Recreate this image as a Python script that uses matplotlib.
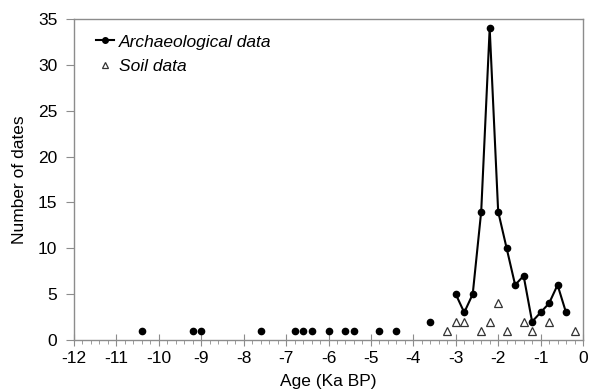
import matplotlib
matplotlib.use("Agg")
import matplotlib.pyplot as plt
from matplotlib.ticker import MultipleLocator
import numpy as np

plt.rcParams['font.family'] = ['Liberation Sans', 'DejaVu Sans']
plt.rcParams['axes.unicode_minus'] = False

# Archaeological data: isolated early dates and the connected series
arch_early_age = [-10.4, -9.2, -9.0, -7.6, -6.8, -6.6, -6.4, -6.0, -5.6, -5.4, -4.8, -4.4, -3.6]
arch_early_n = [1, 1, 1, 1, 1, 1, 1, 1, 1, 1, 1, 1, 2]
arch_age = [-3.0, -2.8, -2.6, -2.4, -2.2, -2.0, -1.8, -1.6, -1.4, -1.2, -1.0, -0.8, -0.6, -0.4]
arch_n = [5, 3, 5, 14, 34, 14, 10, 6, 7, 2, 3, 4, 6, 3]

# Soil data
soil_age = [-3.2, -3.0, -2.8, -2.4, -2.2, -2.0, -1.8, -1.4, -1.2, -0.8, -0.2]
soil_n = [1, 2, 2, 1, 2, 4, 1, 2, 1, 2, 1]

x_ticks = list(range(-12, 1))
y_ticks = list(range(0, 36, 5))

fig = plt.figure(figsize=(5.9, 3.91), dpi=100)
ax = fig.add_axes([74/590, 1 - 340/391, (583-74)/590, (340-19)/391])

ax.plot(arch_early_age, arch_early_n, linestyle='none', marker='o', color='black', markersize=4.5)
line, = ax.plot(arch_age, arch_n, '-o', color='black', linewidth=1.5, markersize=4.5,
                label='Archaeological data')
ax.plot(soil_age, soil_n, linestyle='none', marker='^', markerfacecolor='white',
        markeredgecolor='#333333', markersize=6, markeredgewidth=0.9, label='Soil data')

ax.set_xlim(-12, 0)
ax.set_ylim(0, 35)
ax.set_xticks(x_ticks)
ax.set_yticks(y_ticks)
ax.xaxis.set_minor_locator(MultipleLocator(0.2))

for s in ax.spines.values():
    s.set_color('#8c8c8c')
    s.set_linewidth(1.0)

ax.tick_params(axis='x', which='major', direction='inout', length=8, color='#8c8c8c', labelsize=12.5, pad=4)
ax.tick_params(axis='x', which='minor', direction='out', length=3, color='#8c8c8c')
ax.tick_params(axis='y', which='major', direction='out', length=6, color='#8c8c8c', labelsize=12.5, pad=6)

ax.set_xlabel('Age (Ka BP)', fontsize=12.5)
ax.set_ylabel('Number of dates', fontsize=12.5)
ax.xaxis.set_label_coords(0.5, -(374 - 340) / 321)
ax.yaxis.set_label_coords((27 - 74) / 509, 0.5)

leg = ax.legend(loc='upper left', bbox_to_anchor=(0.02, 0.99), frameon=False,
                prop={'style': 'italic', 'size': 12.5}, handlelength=1.0, handletextpad=0.3,
                labelspacing=0.55, borderpad=0.2)
for h in leg.legend_handles:
    h.set_markersize(4)

fig.savefig('out.png', dpi=100)
